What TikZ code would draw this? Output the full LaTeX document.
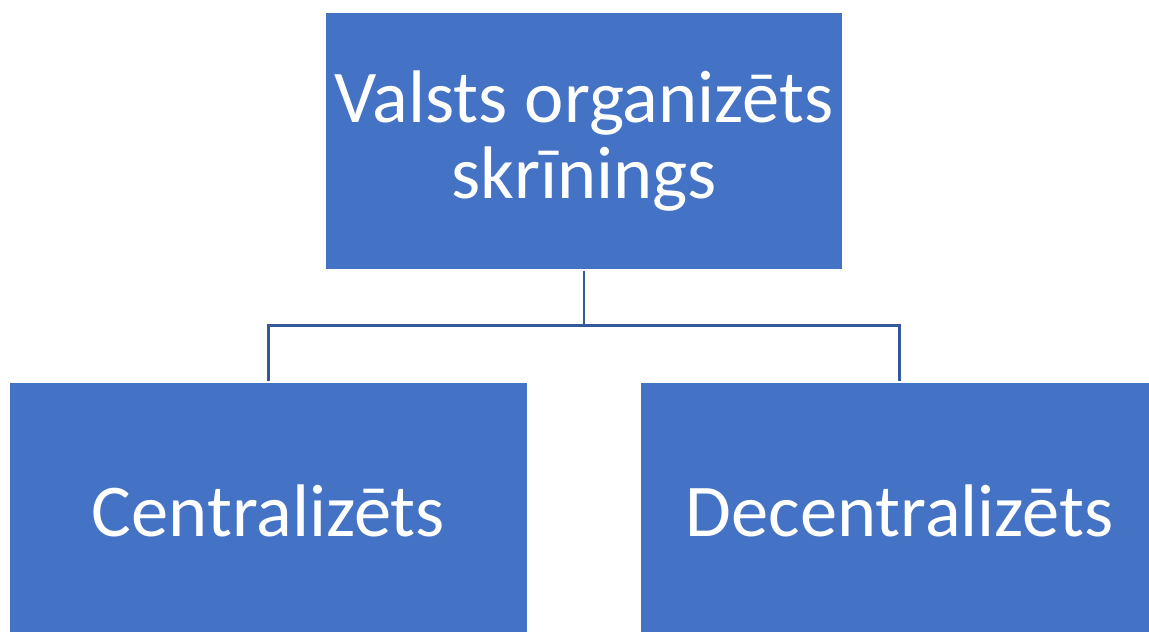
\documentclass[tikz,border=0pt]{standalone}
\usepackage{fontspec}
\setmainfont{Carlito}
\definecolor{boxblue}{HTML}{4472C4}
\definecolor{linkblue}{HTML}{34589A}
\tikzset{
	orgbox/.style={rectangle, fill=boxblue, draw=white, line width=1.2pt,
		minimum width=518pt, minimum height=258pt, inner sep=0pt,
		text=white, align=center, font=\fontsize{74.5}{76}\selectfont},
	link/.style={draw=linkblue, line width=2.4pt}
}
\begin{document}
\begin{tikzpicture}[x=1pt, y=-1pt]
	\useasboundingbox (0,0) rectangle (1149,632);
	\clip (0,0) rectangle (1149,632);
	\fill[white] (0,0) rectangle (1149,632);
	
	\node[orgbox] (valsts) at (584,141) {Valsts organizēts\\skrīnings};
	\node[orgbox] (central) at (268.5,511) {Centralizēts};
	\node[orgbox] (decentral) at (899.5,511) {Decentralizēts};
	
	\draw[link] (valsts.south) -- ++(0,55) coordinate (fork) -| (central.north);
	\draw[link] (fork) -| (decentral.north);
\end{tikzpicture}
\end{document}
